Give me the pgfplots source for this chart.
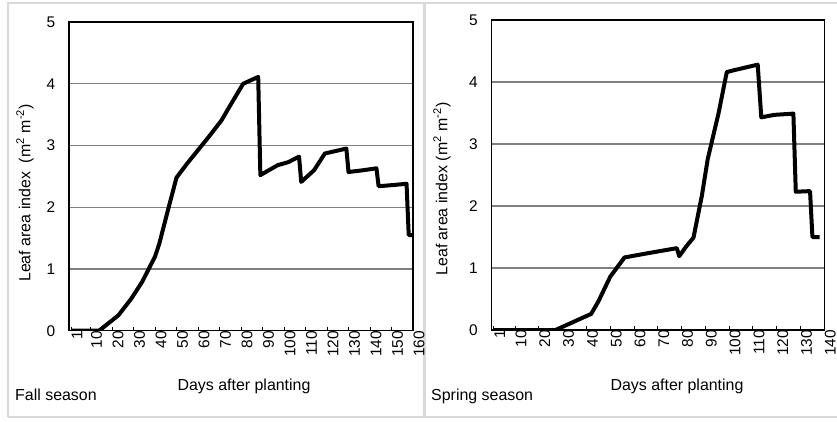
\documentclass[border=0pt]{standalone}
\usepackage{fontspec}
\setmainfont{Liberation Sans}
\usepackage{pgfplots}
\pgfplotsset{compat=1.18}
\definecolor{boxgray}{HTML}{D9D9D9}
\definecolor{gridgray}{HTML}{808080}
\pgfplotsset{
  lai/.style={
    scale only axis,
    anchor=south west,
    ymin=0, ymax=5,
    ytick={0,1,2,3,4,5},
    ymajorgrids,
    major grid style={gridgray, line width=1.1bp},
    axis line style={black, line width=1.5bp},
    tick align=inside,
    xtick pos=left,
    ytick pos=left,
    major tick length=4bp,
    xtick style={black, line width=1bp},
    ytick style={draw=none},
    /pgf/number format/assume math mode=true,
    tick label style={font=\fontsize{15.5}{18}\selectfont},
    xticklabel style={rotate=90, anchor=east, inner sep=0pt, yshift=-6bp},
    yticklabel style={anchor=east, inner sep=0pt, xshift=-13.5bp},
  },
}
\begin{document}
\begin{tikzpicture}[x=1bp,y=1bp]
\path[use as bounding box] (0,0) rectangle (837,421);
% panel frames
\draw[boxgray, line width=1.5bp] (8,4) -- (8,418) -- (840,418);
\draw[boxgray, line width=1.5bp] (8,4) -- (840,4);
\draw[boxgray, line width=2.5bp] (424.5,4) -- (424.5,418);

% Fall season
\begin{axis}[lai,
  at={(69bp,90.3bp)}, width=344bp, height=308.7bp,
  xmin=0, xmax=160,
  xtick={1,10,20,30,40,50,60,70,80,90,100,110,120,130,140,150,160},
]
\addplot[black, line width=4bp, line join=round, mark=none] coordinates {
(1,0) (14,0) (23,0.25) (29,0.52) (34,0.79) (40,1.2) (42,1.41) (46,1.95)
(50,2.48) (55,2.71) (65,3.14) (71,3.41) (75,3.65) (81,4.0) (88,4.11)
(89,2.52) (97,2.68) (102,2.73) (107,2.82) (108,2.41) (114,2.6) (119,2.87)
(129,2.95) (130,2.57) (137,2.6) (143,2.63) (144,2.34) (151,2.36) (157,2.38)
(158,1.55) (160,1.55)
};
\end{axis}

% Spring season
\begin{axis}[lai,
  at={(491.3bp,91bp)}, width=333bp, height=310bp,
  xmin=0, xmax=140,
  xtick={1,10,20,30,40,50,60,70,80,90,100,110,120,130,140},
]
\addplot[black, line width=4bp, line join=round, mark=none] coordinates {
(1,0) (27,0) (42,0.26) (45,0.46) (50,0.86) (56,1.17) (66,1.24) (78,1.32)
(79,1.19) (82,1.35) (85,1.49) (88.5,2.16) (91,2.76) (95.5,3.49) (99,4.16)
(102,4.19) (112,4.28) (113.5,3.43) (119,3.47) (127,3.49) (128,2.23)
(134,2.24) (135,1.5) (138,1.5)
};
\end{axis}

% labels
\node[anchor=base west, inner sep=0pt, font=\fontsize{16}{19}\selectfont] at (15,21) {Fall season};
\node[anchor=base, inner sep=0pt, font=\fontsize{16}{19}\selectfont] at (244,31) {Days after planting};
\node[rotate=90, inner sep=0pt, font=\fontsize{16}{19}\selectfont] at (25,228) {Leaf area index\ \ (m\textsuperscript{2} m\textsuperscript{-2})};
\node[anchor=base west, inner sep=0pt, font=\fontsize{16}{19}\selectfont] at (431,21) {Spring season};
\node[anchor=base, inner sep=0pt, font=\fontsize{16}{19}\selectfont] at (677,31) {Days after planting};
\node[rotate=90, inner sep=0pt, font=\fontsize{16}{19}\selectfont] at (442,232) {Leaf area index (m\textsuperscript{2} m\textsuperscript{-2})};
\end{tikzpicture}
\end{document}
